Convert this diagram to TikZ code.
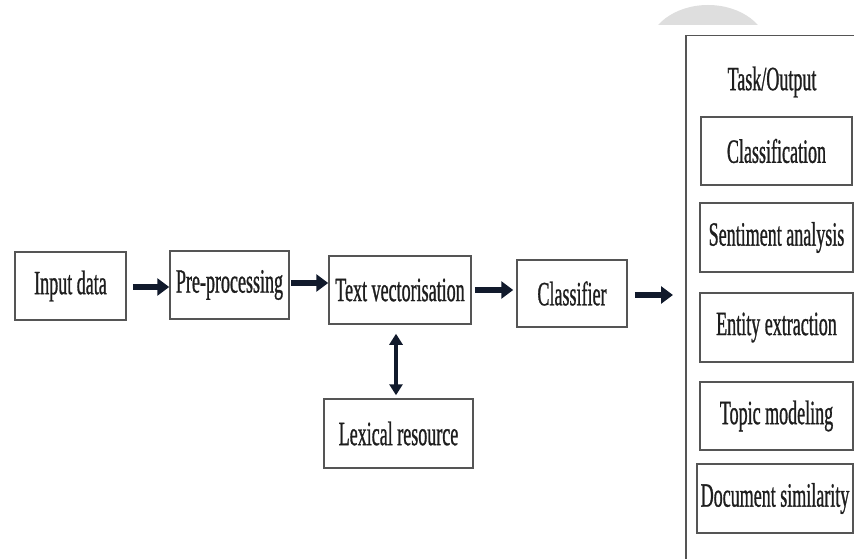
\documentclass[tikz,border=0pt]{standalone}
\usepackage{fontspec}
\setmainfont{Liberation Serif}[FakeStretch=0.53,FakeBold=0.8]
\usetikzlibrary{arrows.meta}
\definecolor{edge}{HTML}{555555}
\definecolor{arr}{HTML}{111A2C}
\definecolor{txt}{HTML}{1E1E1E}
\definecolor{blob}{HTML}{DEDEDE}
\begin{document}
\begin{tikzpicture}[x=1pt,y=-1pt,
  box/.style={draw=edge, line width=1.5pt, rectangle, inner sep=0pt, text=txt, font=\fontsize{34}{36}\selectfont},
  label/.style={text=txt, inner sep=0pt, font=\fontsize{34}{36}\selectfont},
  flow/.style={draw=arr, line width=6.5pt, -{Triangle[length=12pt,width=17pt]}},
  both/.style={draw=arr, line width=3.5pt, {Triangle[length=11pt,width=13pt]}-{Triangle[length=11pt,width=13pt]}}]
\useasboundingbox (0,0) rectangle (854,559);
\clip (0,0) rectangle (854,559);
\begin{scope}
  \clip (630,0) rectangle (800,25);
  \fill[blob] (708,50) ellipse [x radius=60pt, y radius=45pt];
\end{scope}

\node[box, minimum width=111pt, minimum height=68pt] (inp) at (70.5,286) {Input data};
\node[box, minimum width=119pt, minimum height=68pt] (pre) at (229.5,285) {Pre-processing};
\node[box, minimum width=142pt, minimum height=68pt] (tv) at (400,290) {Text vectorisation};
\node[box, minimum width=110pt, minimum height=67pt] (cls) at (572,293.5) {Classifier};
\node[box, minimum width=149pt, minimum height=69pt] (lex) at (398.5,433.5) {Lexical resource};

\node[box, minimum width=200pt, minimum height=560pt, anchor=north west] (task) at (685,35) {};
\node[label] (title) at (772,82) {Task/Output};
\node[box, minimum width=151pt, minimum height=68pt] (c1) at (776.5,151) {Classification};
\node[box, minimum width=153pt, minimum height=69pt] (c2) at (776.5,237.5) {Sentiment analysis};
\node[box, minimum width=153pt, minimum height=69pt] (c3) at (776.5,327.5) {Entity extraction};
\node[box, minimum width=153pt, minimum height=68pt] (c4) at (776.5,416) {Topic modeling};
\node[box, minimum width=156pt, minimum height=69pt] (c5) at (775,498.5) {Document similarity};

\draw[flow] ([xshift=6pt,yshift=-1pt]inp.east) -- ([yshift=-1pt]inp.east -| pre.west);
\draw[flow] ([xshift=1pt,yshift=2pt]pre.east) -- ([yshift=2pt]pre.east -| tv.west);
\draw[flow] ([xshift=3pt]tv.east) -- ([xshift=-3pt]tv.east -| cls.west);
\draw[flow] ([xshift=7pt,yshift=-1.5pt]cls.east) -- ([xshift=-12pt,yshift=-1.5pt]cls.east -| task.west);
\draw[both] ([xshift=-4pt,yshift=-9pt]tv.south) -- ([xshift=-4pt,yshift=3pt]tv.south |- lex.north);
\end{tikzpicture}
\end{document}
